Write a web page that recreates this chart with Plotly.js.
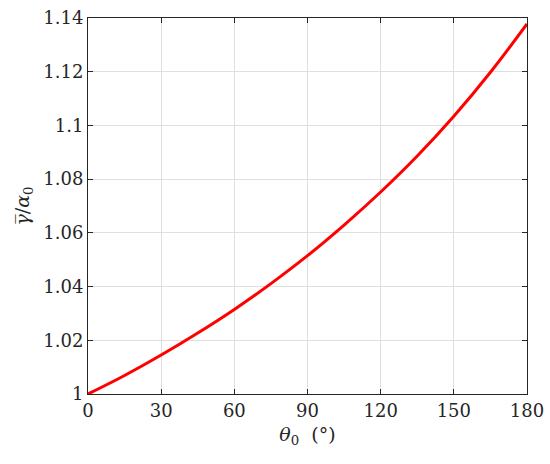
<!DOCTYPE html>
<html>
<head>
<meta charset="utf-8">
<script src="https://cdn.plot.ly/plotly-3.0.1.min.js"></script>
<style>html,body{margin:0;padding:0;background:#fff;}#chart{width:550px;height:464px;}</style>
</head>
<body>
<div id="chart"></div>
<script>
const theta0 = [0, 15, 30, 45, 60, 75, 90, 105, 120, 135, 150, 165, 180];
const gammaRatio = [1.000, 1.0069, 1.0145, 1.0227, 1.0315, 1.0411, 1.0515, 1.0629, 1.0752, 1.0886, 1.1034, 1.1198, 1.1378];
const xTickVals = [0, 30, 60, 90, 120, 150, 180];
const xTickText = ["0", "30", "60", "90", "120", "150", "180"];
const yTickVals = [1, 1.02, 1.04, 1.06, 1.08, 1.1, 1.12, 1.14];
const yTickText = ["1", "1.02", "1.04", "1.06", "1.08", "1.1", "1.12", "1.14"];

const fontFam = "DejaVu Serif";
const axisCommon = {
  showline: true, linecolor: "#262626", linewidth: 1, mirror: "ticks",
  ticks: "inside", ticklen: 5, tickwidth: 1, tickcolor: "#262626",
  showgrid: true, gridcolor: "#dfdfdf", gridwidth: 1, zeroline: false,
  tickfont: {family: fontFam, size: 18, color: "#262626"}
};

Plotly.newPlot("chart", [{
  x: theta0, y: gammaRatio, type: "scatter", mode: "lines",
  line: {color: "#ff0000", width: 3, shape: "spline", smoothing: 1}
}], {
  width: 550, height: 464,
  margin: {l: 88, r: 23, t: 18, b: 70},
  paper_bgcolor: "#fff", plot_bgcolor: "#fff",
  showlegend: false,
  font: {family: fontFam, size: 18, color: "#262626"},
  xaxis: Object.assign({}, axisCommon, {
    range: [0, 180], tickmode: "array", tickvals: xTickVals, ticktext: xTickText,
    title: {text: "<i>θ</i><sub>0</sub>  (°)", font: {family: fontFam, size: 19, color: "#262626"}, standoff: 8}
  }),
  yaxis: Object.assign({}, axisCommon, {
    range: [1, 1.14], tickmode: "array", tickvals: yTickVals, ticktext: yTickText,
    title: {text: "<i>γ\u0305</i>/<i>α</i><sub>0</sub>", font: {family: fontFam, size: 19, color: "#262626"}, standoff: 8}
  })
}, {displayModeBar: false, staticPlot: true});
</script>
</body>
</html>
